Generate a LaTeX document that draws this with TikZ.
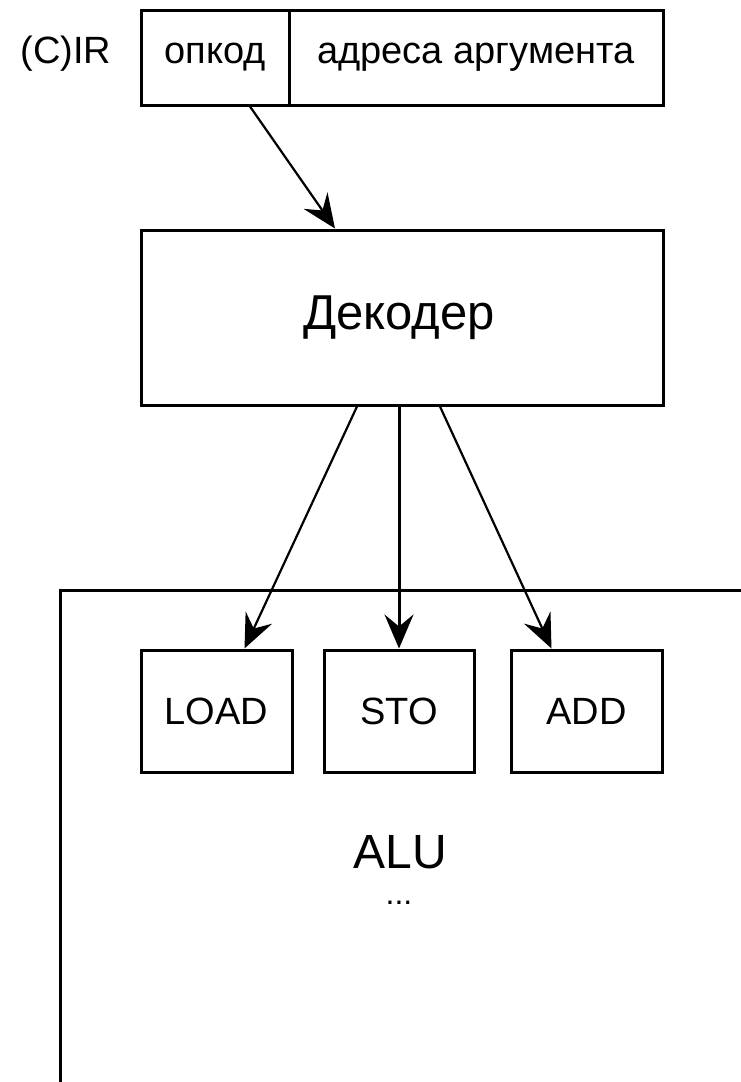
\documentclass[tikz,border=0pt]{standalone}
\usepackage{fontspec}
\setmainfont{Liberation Sans}
\usetikzlibrary{arrows.meta}
\begin{document}
\begin{tikzpicture}[x=1pt,y=-1pt,
  cell/.style={draw,line width=3pt,inner sep=0pt,font=\fontsize{38}{44}\selectfont},
  lbl/.style={inner sep=0pt,font=\fontsize{38}{44}\selectfont},
  arr/.style={line width=2.2pt,-{Stealth[length=34pt,width=29pt,inset=12pt]}},
  arrthick/.style={arr,line width=3pt}]
\useasboundingbox[fill=white] (0,0) rectangle (741,1082);

% instruction register
\node[lbl] (cir) at (66,54) {(C)IR};
\node[cell,minimum width=148pt,minimum height=95pt] (opc) at (215,57.5) {опкод};
\node[cell,minimum width=374pt,minimum height=95pt] (adr) at (476,57.5) {адреса аргумента};

% decoder
\node[cell,minimum width=522pt,minimum height=175pt,font=\fontsize{49}{56}\selectfont] (dec) at (402,317.5) {\hspace*{-6pt}Декодер};

% ALU container, running off the right and bottom edges
\draw[line width=3pt] (760,590) -- (60,590) -- (60,1100);
\node[lbl,font=\fontsize{48}{56}\selectfont] (alu) at (400,852) {ALU};
\node[lbl,font=\fontsize{32}{36}\selectfont,anchor=base] (more) at (399,904) {...};

% operation units
\node[cell,minimum width=151pt,minimum height=122pt] (load) at (216.5,711) {LOAD};
\node[cell,minimum width=150pt,minimum height=122pt] (sto) at (399,711) {STO};
\node[cell,minimum width=151pt,minimum height=122pt] (add) at (586.5,711) {ADD};

% connectors
\draw[arr] ([xshift=35pt]opc.south) -- ([xshift=-67pt]dec.north);
\draw[arr] ([xshift=-45pt]dec.south) -- ([xshift=28pt]load.north);
\draw[arrthick] ([xshift=-3pt]dec.south) -- (sto.north);
\draw[arr] ([xshift=38pt]dec.south) -- ([xshift=-35pt]add.north);
\end{tikzpicture}
\end{document}
